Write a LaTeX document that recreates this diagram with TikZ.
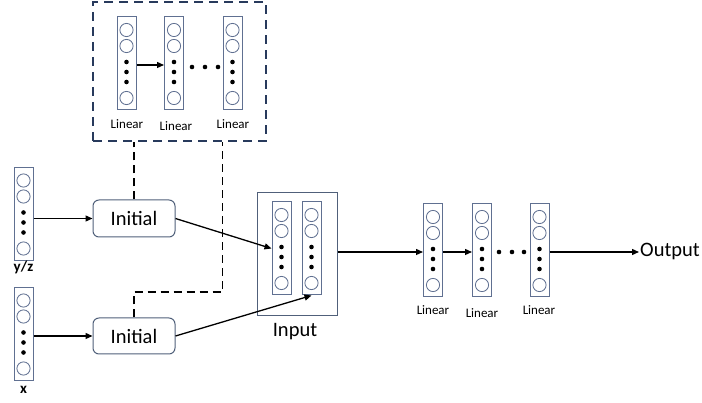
\documentclass[tikz,border=0pt]{standalone}
\usepackage{fontspec}
\setmainfont{Carlito}
\usetikzlibrary{arrows.meta}
\definecolor{stackcol}{RGB}{96,112,145}
\definecolor{boxcol}{RGB}{80,96,122}
\definecolor{dashcol}{RGB}{40,58,92}
\tikzset{
  stackbox/.style={draw=stackcol, line width=1pt, minimum width=19pt, minimum height=93pt, inner sep=0pt},
  neuron/.style={draw=stackcol, line width=0.8pt},
  dotmark/.style={fill=black},
  stack/.pic={
    \node[stackbox] (-box) at (0,0) {};
    \draw[neuron] (0,-33.5) circle[radius=6.6pt];
    \draw[neuron] (0,-17.5) circle[radius=6.6pt];
    \fill[dotmark] (0,-1.5) circle[radius=2.3pt];
    \fill[dotmark] (0,8.5) circle[radius=2.3pt];
    \fill[dotmark] (0,18.5) circle[radius=2.3pt];
    \draw[neuron] (0,34.5) circle[radius=6.6pt];
  },
  initbox/.style={draw=boxcol, line width=1pt, rounded corners=6pt, minimum width=82pt, minimum height=37pt, font=\fontsize{20.5}{22}\selectfont},
  arr/.style={line width=1.3pt, -{Triangle[length=7pt,width=6pt]}},
  dashpath/.style={line width=1.3pt, dash pattern=on 8pt off 5pt},
  lbl/.style={font=\fontsize{13}{14}\selectfont, inner sep=0pt},
  boldlbl/.style={font=\fontsize{15}{16}\selectfont\bfseries, inner sep=0pt},
  big/.style={font=\fontsize{20.5}{22}\selectfont, inner sep=1pt},
}
\begin{document}
\begin{tikzpicture}[x=1pt, y=-1pt]
\useasboundingbox (0,0) rectangle (702,403);

% dashed group of linear layers (top)
\node[draw=dashcol, line width=1.8pt, dash pattern=on 9pt off 6pt, minimum width=173pt, minimum height=139pt, inner sep=0pt] (group) at (179.5,71.5) {};
\pic (t1) at (126.5,63.5) {stack};
\pic (t2) at (174,63.5) {stack};
\pic (t3) at (232.5,63.5) {stack};
\draw[arr] (t1-box.east |- 0,65) -- (t2-box.west |- 0,65);
\foreach \xx in {192,205,218} \fill (\xx,67) circle[radius=2.3pt];
\node[lbl] (tl1) at (127,124) {Linear};
\node[lbl] (tl2) at (176,126) {Linear};
\node[lbl] (tl3) at (233,124) {Linear};

% inputs
\pic (yz) at (23.5,214) {stack};
\node[boldlbl] (yzl) at (23.5,267) {y/z};
\pic (xv) at (23.5,334) {stack};
\node[boldlbl] (xl) at (23.5,390) {x};

\node[initbox] (init1) at (134,218.5) {Initial};
\node[initbox, minimum height=36pt] (init2) at (134,336) {Initial};

\draw[arr] (yz-box.east |- init1.west) -- (init1.west);
\draw[arr] (xv-box.east |- init2.west) -- (init2.west);

% dashed links to the layer group
\draw[dashpath] (init1.north) -- (init1.north |- group.south);
\coordinate (bend) at (222.5,292);
\draw[dashpath] (init2.north) |- (bend) -- (bend |- group.south);

% input block
\node[draw=boxcol, line width=1pt, minimum width=80pt, minimum height=123pt, inner sep=0pt] (inbox) at (297,254.5) {};
\pic (c1) at (281.5,248.5) {stack};
\pic (c2) at (311.5,248.5) {stack};
\node[big] (inl) at (295,332) {Input};

\draw[arr] (init1.east) -- (c1-box.west);
\draw[arr] (init2.east) -- (c2-box.south);

% output layers
\pic (r1) at (433,250.5) {stack};
\pic (r2) at (482,250.5) {stack};
\pic (r3) at (539.5,250.5) {stack};
\draw[arr] (inbox.east |- 0,252) -- (r1-box.west |- 0,252);
\draw[arr] (r1-box.east |- 0,252) -- (r2-box.west |- 0,252);
\foreach \xx in {499,512,524} \fill (\xx,252) circle[radius=2.3pt];
\node[lbl] (rl1) at (433,310) {Linear};
\node[lbl] (rl2) at (482,313) {Linear};
\node[lbl] (rl3) at (539,310) {Linear};

\node[big, anchor=west] (out) at (639,252) {Output};
\draw[arr] (r3-box.east |- 0,252) -- (out.west);
\end{tikzpicture}
\end{document}
